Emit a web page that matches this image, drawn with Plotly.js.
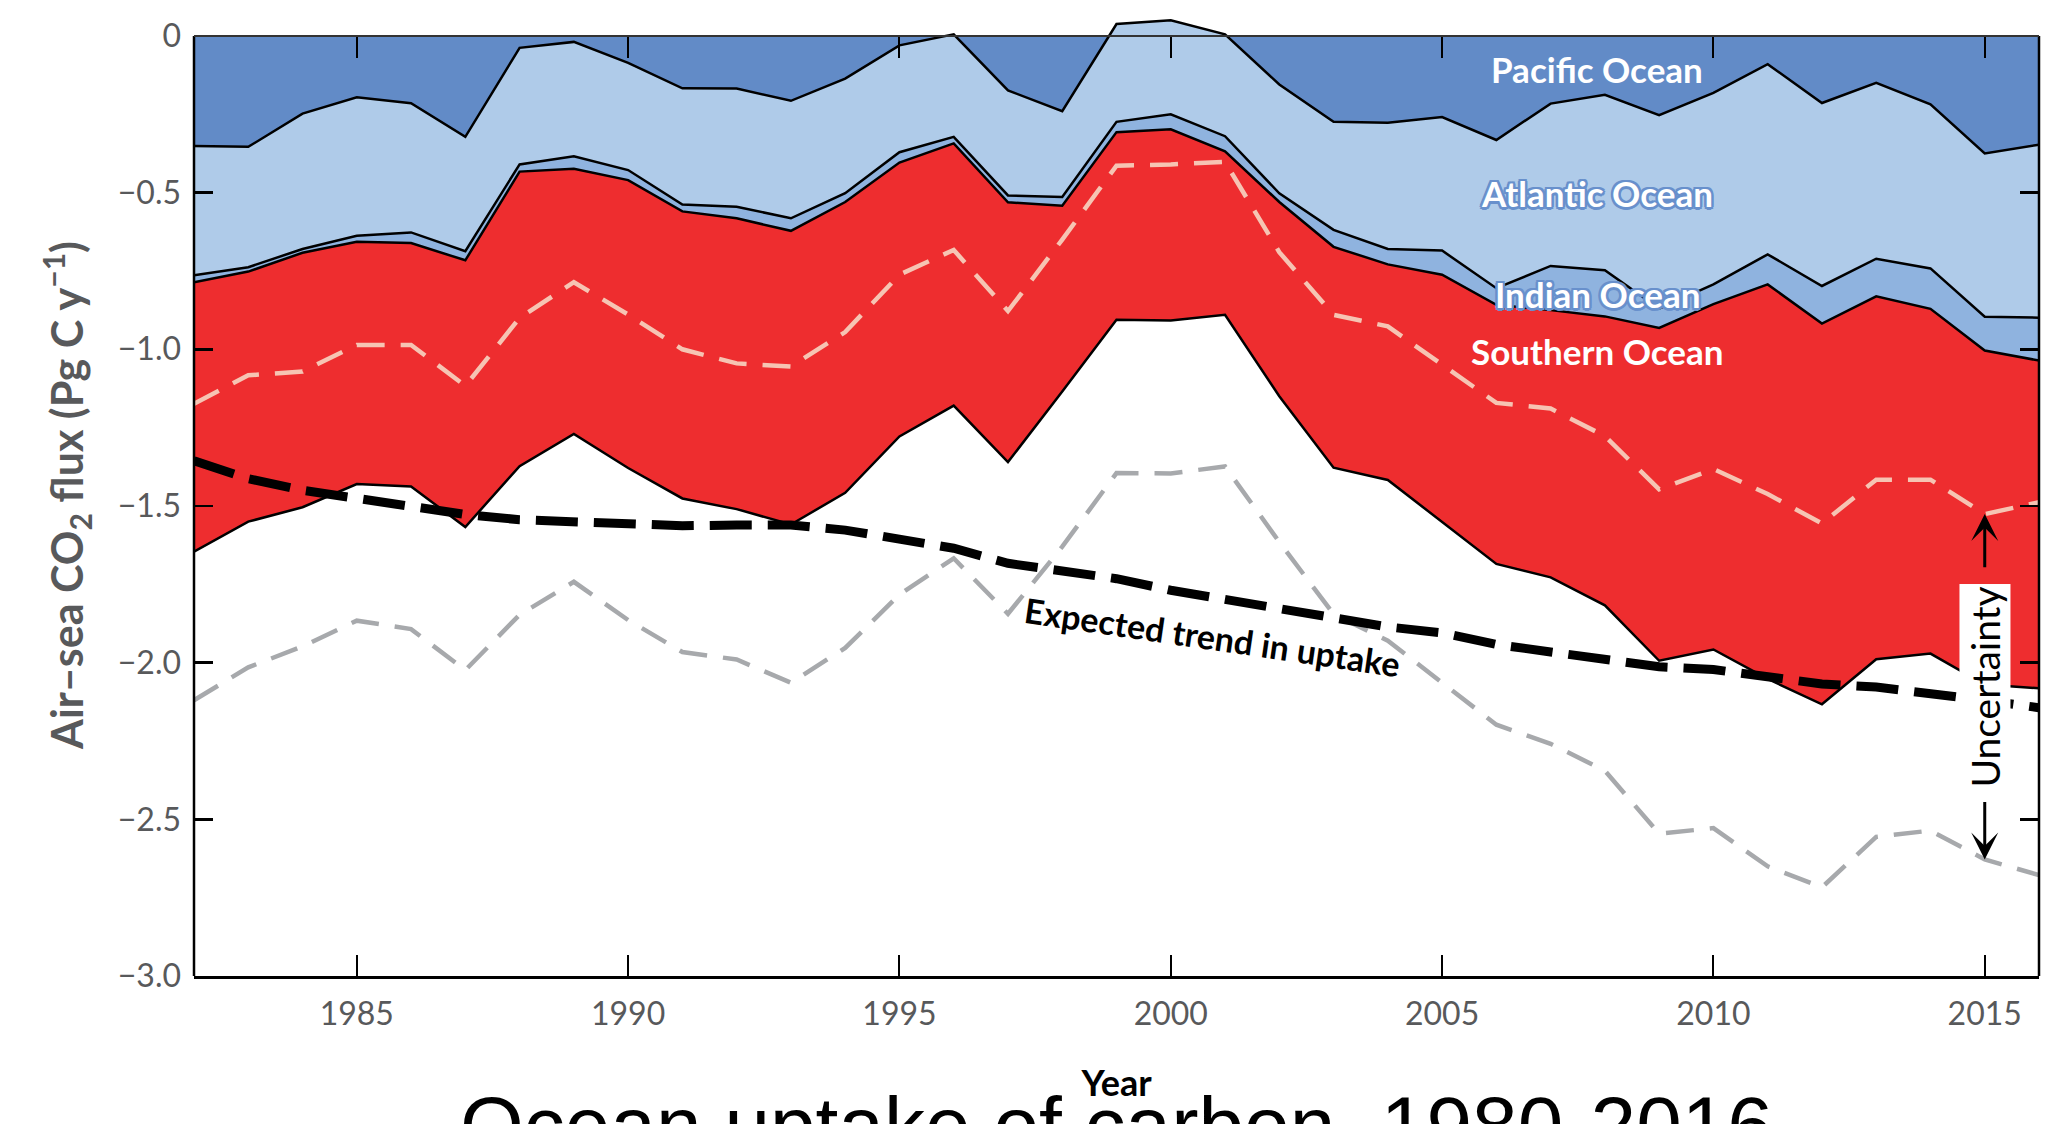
<!DOCTYPE html>
<html>
<head>
<meta charset="utf-8">
<script src="https://cdn.plot.ly/plotly-3.0.1.min.js"></script>
<style>
html,body{margin:0;padding:0;background:#fff;}
#chart{width:2068px;height:1124px;}
</style>
</head>
<body>
<div id="chart"></div>
<script>
// ---------------- DATA ----------------
const years = [1982,1983,1984,1985,1986,1987,1988,1989,1990,1991,1992,1993,1994,1995,1996,1997,1998,1999,
               2000,2001,2002,2003,2004,2005,2006,2007,2008,2009,2010,2011,2012,2013,2014,2015,2016];

// cumulative lower edge of each ocean band (Pg C / y)
const pacificEdge = [-0.351,-0.354,-0.248,-0.196,-0.215,-0.322,-0.038,-0.019,-0.086,-0.167,-0.168,-0.207,-0.136,-0.030,0.005,-0.174,-0.240,0.038,
                     0.050,0.005,-0.155,-0.274,-0.277,-0.259,-0.332,-0.216,-0.188,-0.253,-0.182,-0.090,-0.214,-0.150,-0.218,-0.375,-0.347];
const atlanticEdge = [-0.764,-0.738,-0.680,-0.638,-0.627,-0.687,-0.410,-0.384,-0.428,-0.538,-0.545,-0.582,-0.502,-0.371,-0.322,-0.509,-0.514,-0.274,
                      -0.250,-0.320,-0.502,-0.619,-0.680,-0.685,-0.805,-0.734,-0.748,-0.870,-0.793,-0.697,-0.798,-0.711,-0.742,-0.896,-0.899];
const indianEdge = [-0.786,-0.752,-0.692,-0.657,-0.661,-0.716,-0.433,-0.424,-0.460,-0.560,-0.582,-0.622,-0.530,-0.404,-0.343,-0.531,-0.542,-0.307,
                    -0.298,-0.368,-0.530,-0.673,-0.729,-0.762,-0.858,-0.875,-0.895,-0.932,-0.856,-0.793,-0.918,-0.831,-0.871,-1.004,-1.036];
const southernEdge = [-1.646,-1.550,-1.504,-1.430,-1.438,-1.567,-1.373,-1.270,-1.379,-1.476,-1.510,-1.559,-1.458,-1.278,-1.180,-1.360,-1.135,-0.906,
                      -0.908,-0.890,-1.150,-1.378,-1.417,-1.551,-1.685,-1.728,-1.817,-1.994,-1.958,-2.052,-2.133,-1.989,-1.971,-2.070,-2.082];
const uncertaintyUpper = [-1.174,-1.083,-1.071,-0.986,-0.986,-1.117,-0.900,-0.786,-0.889,-1.000,-1.045,-1.055,-0.945,-0.762,-0.683,-0.878,-0.650,-0.414,
                          -0.410,-0.402,-0.690,-0.890,-0.927,-1.049,-1.171,-1.189,-1.277,-1.447,-1.382,-1.462,-1.556,-1.416,-1.416,-1.526,-1.488];
const uncertaintyLower = [-2.120,-2.015,-1.948,-1.866,-1.893,-2.024,-1.847,-1.742,-1.864,-1.966,-1.990,-2.064,-1.953,-1.783,-1.667,-1.844,-1.630,-1.395,
                          -1.396,-1.374,-1.615,-1.845,-1.930,-2.064,-2.198,-2.259,-2.345,-2.546,-2.528,-2.650,-2.717,-2.556,-2.536,-2.628,-2.678];
const expectedTrend = [-1.356,-1.413,-1.450,-1.475,-1.505,-1.527,-1.544,-1.552,-1.560,-1.563,-1.561,-1.561,-1.577,-1.604,-1.635,-1.683,-1.708,-1.732,
                       -1.769,-1.800,-1.830,-1.862,-1.886,-1.905,-1.942,-1.966,-1.990,-2.013,-2.022,-2.045,-2.068,-2.078,-2.096,-2.120,-2.144];

const xTickVals = [1985,1990,1995,2000,2005,2010,2015];
const yTickVals = [0,-0.5,-1.0,-1.5,-2.0,-2.5,-3.0];
const yTickText = ['0','\u22120.5','\u22121.0','\u22121.5','\u22122.0','\u22122.5','\u22123.0'];

const oceanLabels = ['Pacific Ocean','Atlantic Ocean','Indian Ocean','Southern Ocean'];
const chartTitle = 'Ocean uptake of carbon, 1980-2016';
const xTitle = 'Year';
const yTitle = 'Air\u2013sea CO<sub>2</sub> flux (Pg C y<sup>\u22121</sup>)';
const trendLabel = 'Expected trend in uptake';
const uncertaintyLabel = 'Uncertainty';

// ---------------- STYLE ----------------
const xRange = [1982, 2016];
const yRange = [-3, 0.07];
const yZeroFrac = (0 - yRange[0]) / (yRange[1] - yRange[0]);
const C = {
  pacific:'#628bc7', atlantic:'#afcbe9', indian:'#8fb3df', southern:'#ee2d2f',
  pink:'#f6c4b3', gray:'#a7a9ac', tick:'#58595b', outline:'#6890cc'
};
const edgeLine = {color:'#000', width:2.5};
const zeros = years.map(()=>0);

const traces = [
  {x:years, y:zeros, mode:'lines', line:{width:0,color:'rgba(0,0,0,0)'}, hoverinfo:'skip'},
  {x:years, y:pacificEdge, mode:'lines', fill:'tonexty', fillcolor:C.pacific, line:edgeLine, name:oceanLabels[0]},
  {x:years, y:atlanticEdge, mode:'lines', fill:'tonexty', fillcolor:C.atlantic, line:edgeLine, name:oceanLabels[1]},
  {x:years, y:indianEdge, mode:'lines', fill:'tonexty', fillcolor:C.indian, line:edgeLine, name:oceanLabels[2]},
  {x:years, y:southernEdge, mode:'lines', fill:'tonexty', fillcolor:C.southern, line:edgeLine, name:oceanLabels[3]},
  {x:years, y:uncertaintyUpper, mode:'lines', line:{color:C.pink, width:4.5, dash:'28px,16px'}},
  {x:years, y:uncertaintyLower, mode:'lines', line:{color:C.gray, width:4.5, dash:'28px,16px'}},
  {x:years, y:expectedTrend, mode:'lines', line:{color:'#000', width:9, dash:'42px,16px'}},
  {x:years, y:zeros, xaxis:'x2', yaxis:'y', mode:'lines', line:{width:0,color:'rgba(0,0,0,0)'}, hoverinfo:'skip'}
];

const i2015 = years.indexOf(2015);
const labelX = 2007.86;
const labelFont = (extra) => Object.assign({family:'Lato, "Open Sans", sans-serif', size:35, color:'#fff', weight:'bold'}, extra||{});
const outline = [[-2,-2],[2,-2],[-2,2],[2,2],[0,2.5],[0,-2.5],[2.5,0],[-2.5,0]]
  .map(p => p[0]+'px '+p[1]+'px 0 '+C.outline).join(', ');

const annotations = [
  {x:labelX, y:-0.105, xref:'x', yref:'y', text:oceanLabels[0], showarrow:false, font:labelFont()},
  {x:labelX, y:-0.500, xref:'x', yref:'y', text:oceanLabels[1], showarrow:false, font:labelFont({shadow:outline})},
  {x:labelX, y:-0.825, xref:'x', yref:'y', text:oceanLabels[2], showarrow:false, font:labelFont({shadow:outline})},
  {x:labelX, y:-1.006, xref:'x', yref:'y', text:oceanLabels[3], showarrow:false, font:labelFont()},
  {x:2000.76, y:-1.918, xref:'x', yref:'y', text:trendLabel, showarrow:false, textangle:8.3,
   font:{family:'Lato, sans-serif', size:34, color:'#000', weight:'bold'}},
  {x:years[i2015], y:(uncertaintyUpper[i2015]+uncertaintyLower[i2015])/2, xref:'x', yref:'y', text:uncertaintyLabel,
   showarrow:false, textangle:-90, bgcolor:'#fff', borderpad:2, font:{family:'Lato, sans-serif', size:39, color:'#000'}},
  {x:years[i2015], y:uncertaintyUpper[i2015], ax:years[i2015], ay:-1.70, xref:'x', yref:'y', axref:'x', ayref:'y',
   text:'', showarrow:true, arrowhead:3, arrowsize:1.5, arrowwidth:3, arrowcolor:'#000'},
  {x:years[i2015], y:uncertaintyLower[i2015], ax:years[i2015], ay:-2.44, xref:'x', yref:'y', axref:'x', ayref:'y',
   text:'', showarrow:true, arrowhead:3, arrowsize:1.5, arrowwidth:3, arrowcolor:'#000'}
];

const shapes = [
  {type:'line', xref:'paper', yref:'y', x0:0, x1:0, y0:yRange[0], y1:0, line:{color:'#000', width:2.5}, layer:'above'},
  {type:'line', xref:'paper', yref:'y', x0:1, x1:1, y0:yRange[0], y1:0, line:{color:'#000', width:2.5}, layer:'above'},
  {type:'line', xref:'paper', yref:'y', x0:0, x1:1, y0:0, y1:0, line:{color:'#333', width:2}, layer:'above'}
];

const layout = {
  width:2068, height:1124,
  margin:{l:194, r:29, t:14, b:148, pad:0},
  paper_bgcolor:'#fff', plot_bgcolor:'#fff',
  font:{family:'Lato, "Open Sans", sans-serif', color:C.tick},
  showlegend:false,
  title:{text:chartTitle, font:{family:'"Liberation Sans", Arial, sans-serif', size:82, color:'#000'},
         xref:'paper', x:0.5, xanchor:'center', yref:'container', y:0.024, yanchor:'top'},
  xaxis:{range:xRange, tickvals:xTickVals, ticks:'inside', ticklen:21, tickwidth:2, tickcolor:'#000',
         showline:true, linewidth:2.5, linecolor:'#000', showgrid:false, zeroline:false,
         tickfont:{size:32, color:C.tick}, ticklabelstandoff:8,
         title:{text:xTitle, font:{size:36, color:'#000', weight:'bold'}, standoff:40}},
  xaxis2:{overlaying:'x', side:'top', anchor:'free', position:yZeroFrac, range:xRange, tickvals:xTickVals,
          ticks:'inside', ticklen:21, tickwidth:2, tickcolor:'#000', showticklabels:false,
          showline:false, showgrid:false, zeroline:false},
  yaxis:{range:yRange, tickvals:yTickVals, ticktext:yTickText, ticks:'inside', ticklen:19, tickwidth:2.5,
         tickcolor:'#000', mirror:'ticks', showline:false, showgrid:false, zeroline:false,
         tickfont:{size:32, color:C.tick}, ticklabelstandoff:12,
         title:{text:yTitle, font:{size:43, color:C.tick, weight:'bold'}, standoff:20}},
  shapes:shapes,
  annotations:annotations
};

Plotly.newPlot('chart', traces, layout, {displayModeBar:false, staticPlot:true});
</script>
</body>
</html>
